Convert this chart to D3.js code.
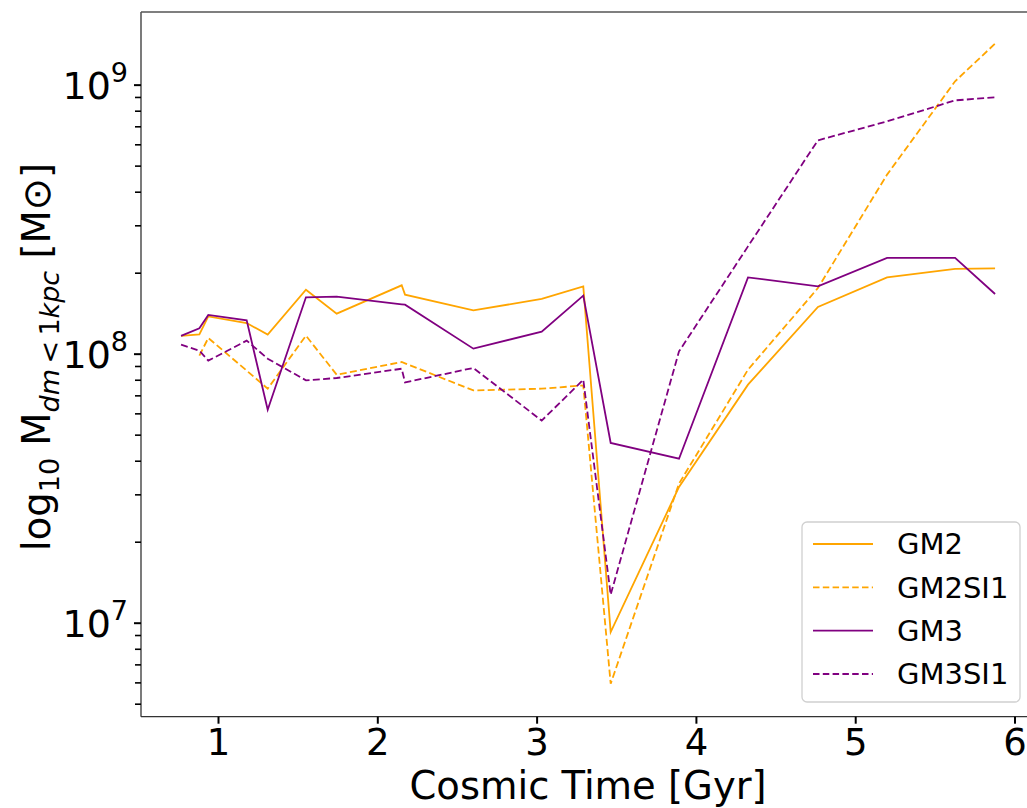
<!DOCTYPE html>
<html><head><meta charset="utf-8">
<script src="https://cdn.jsdelivr.net/npm/d3@7"></script>
<style>
html,body{margin:0;padding:0;background:#fff;}
svg{display:block;font-family:"DejaVu Sans",sans-serif;}
</style></head>
<body>
<svg id="chart" width="1027" height="808"></svg>
<script>
// Snapshot times (Gyr)
const times = [0.768,0.883,0.939,1.180,1.312,1.552,1.745,2.153,2.174,2.603,3.032,3.293,3.465,3.894,4.327,4.766,5.200,5.627,5.878];
const gm2    = [1.164e8,1.180e8,1.376e8,1.300e8,1.177e8,1.729e8,1.408e8,1.795e8,1.657e8,1.449e8,1.597e8,1.779e8,9.23e6,3.195e7,7.67e7,1.492e8,1.921e8,2.065e8,2.075e8];
const gm2si1 = [null,9.83e7,1.144e8,8.65e7,7.41e7,1.167e8,8.35e7,9.31e7,9.21e7,7.30e7,7.41e7,7.62e7,5.93e6,3.29e7,8.72e7,1.754e8,4.63e8,1.029e9,1.42e9];
const gm3    = [1.164e8,1.242e8,1.393e8,1.330e8,6.19e7,1.620e8,1.629e8,1.526e8,1.521e8,1.044e8,1.207e8,1.643e8,4.66e7,4.07e7,1.921e8,1.779e8,2.269e8,2.269e8,1.667e8];
const gm3si1 = [1.080e8,1.026e8,9.42e7,1.118e8,9.58e7,7.96e7,8.12e7,8.79e7,7.82e7,8.85e7,5.64e7,8.00e7,1.271e7,1.020e8,2.505e8,6.21e8,7.30e8,8.74e8,8.97e8];
const seriesNames = ["GM2","GM2SI1","GM3","GM3SI1"];
const seriesColors = ["#FFA500","#FFA500","#800080","#800080"];
const seriesDashed = [false,true,false,true];
const seriesValues = [gm2,gm2si1,gm3,gm3si1];
const xTicks = [1,2,3,4,5,6];
const yMajor = [1e7,1e8,1e9];
const xLabel = "Cosmic Time [Gyr]";

const svg = d3.select("#chart");
const L = 141, T = 12, B = 716.7, R = 1040;
const x = d3.scaleLinear().domain([0.5166, 6.16]).range([L, R]);
const y = d3.scaleLog().domain([Math.pow(10,6.6506), Math.pow(10,9.270)]).range([B, T]);

svg.append("defs").append("clipPath").attr("id","clip")
  .append("rect").attr("x",L).attr("y",T).attr("width",R-L).attr("height",B-T);

const g = svg.append("g").attr("clip-path","url(#clip)");
seriesValues.forEach((vals,i)=>{
  const pts = times.map((t,j)=>[t,vals[j]]).filter(d=>d[1]!=null);
  g.append("path").datum(pts)
    .attr("fill","none")
    .attr("stroke",seriesColors[i])
    .attr("stroke-width",1.8)
    .attr("stroke-dasharray",seriesDashed[i]?"7,3.3":null)
    .attr("d",d3.line().x(d=>x(d[0])).y(d=>y(d[1])));
});

// spines
svg.append("line").attr("x1",L).attr("x2",L).attr("y1",T).attr("y2",B).attr("stroke","#333").attr("stroke-width",1.3);
svg.append("line").attr("x1",L).attr("x2",1027).attr("y1",B).attr("y2",B).attr("stroke","#333").attr("stroke-width",1.3);
svg.append("line").attr("x1",L).attr("x2",1027).attr("y1",T).attr("y2",T).attr("stroke","#555").attr("stroke-width",1.3);

// x axis
const xa = svg.append("g").attr("transform",`translate(0,${B})`)
  .call(d3.axisBottom(x).tickValues(xTicks).tickSize(7).tickPadding(5).tickFormat(d3.format("d")));
xa.select(".domain").remove();
xa.selectAll(".tick line").attr("stroke","#000").attr("stroke-width",2);
xa.selectAll(".tick text").attr("font-size",37).attr("font-family","DejaVu Sans").attr("fill","#000")
  .attr("dy",null).attr("y",38);

// y axis minor ticks
const yMinor = [];
for (let e=6;e<=9;e++) for (let m=2;m<=9;m++){ const v=m*Math.pow(10,e); if (v>=y.domain()[0] && v<=y.domain()[1]) yMinor.push(v); }
const ya2 = svg.append("g").attr("transform",`translate(${L},0)`)
  .call(d3.axisLeft(y).tickValues(yMinor).tickSize(6).tickFormat(""));
ya2.select(".domain").remove();
ya2.selectAll(".tick line").attr("stroke","#000").attr("stroke-width",1.6);

const ya = svg.append("g").attr("transform",`translate(${L},0)`)
  .call(d3.axisLeft(y).tickValues(yMajor).tickSize(7).tickFormat(""));
ya.select(".domain").remove();
ya.selectAll(".tick line").attr("stroke","#000").attr("stroke-width",2);
ya.selectAll(".tick").each(function(d){
  const e = Math.round(Math.log10(d));
  const t = d3.select(this).append("text").attr("text-anchor","end").attr("x",-13).attr("y",14)
    .attr("font-size",38).attr("fill","#000").attr("font-family","DejaVu Sans");
  t.append("tspan").text("10");
  t.append("tspan").attr("font-size",27).attr("dy",-17).text(e);
});

// x label
svg.append("text").attr("x",588).attr("y",799).attr("text-anchor","middle")
  .attr("font-size",38.5).attr("fill","#000").text(xLabel);

// y label
const yl = svg.append("text").attr("transform","translate(50,357) rotate(-90)")
  .attr("text-anchor","middle").attr("font-size",38.5).attr("fill","#000");
yl.append("tspan").text("log");
yl.append("tspan").attr("font-size",27).attr("dy",9).text("10");
yl.append("tspan").attr("dy",-9).text(" M");
yl.append("tspan").attr("font-size",27).attr("dy",9).attr("font-style","italic").text("dm");
yl.append("tspan").attr("font-size",27).text("\u2009<\u2009" + "1");
yl.append("tspan").attr("font-size",27).attr("font-style","italic").text("kpc");
yl.append("tspan").attr("dy",-9).text(" [M\u2299]");

// legend
const lg = svg.append("g");
lg.append("rect").attr("x",802).attr("y",522).attr("width",218).attr("height",180)
  .attr("rx",5).attr("fill","#fff").attr("fill-opacity",0.8).attr("stroke","#d0d0d0").attr("stroke-width",1.3);
const rowY = d3.scaleLinear().domain([0,3]).range([544,674]);
seriesNames.forEach((n,i)=>{
  lg.append("line").attr("x1",813).attr("x2",873).attr("y1",rowY(i)).attr("y2",rowY(i))
    .attr("stroke",seriesColors[i]).attr("stroke-width",1.8)
    .attr("stroke-dasharray",seriesDashed[i]?"6.5,3.3":null);
  lg.append("text").attr("x",897).attr("y",rowY(i)).attr("dy","0.36em")
    .attr("font-size",29).attr("fill","#000").text(n);
});
</script>
</body></html>
